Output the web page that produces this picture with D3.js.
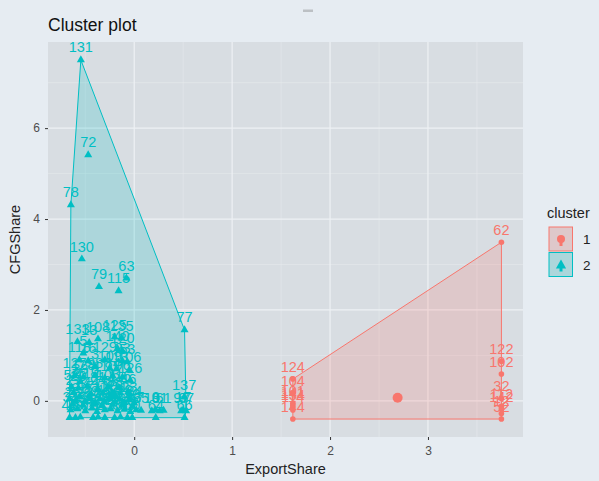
<!DOCTYPE html>
<html><head><meta charset="utf-8">
<script src="https://cdn.jsdelivr.net/npm/d3@7"></script>
<style>body{margin:0;background:#e6ecf2;}svg{display:block;font-family:"Liberation Sans",Arial,sans-serif;}</style>
</head><body><svg id="c" width="599" height="481"></svg>
<script>
// ---- data ----
const title = "Cluster plot";
const xLabel = "ExportShare";
const yLabel = "CFGShare";
const xTicks = [0, 1, 2, 3];
const yTicks = [0, 2, 4, 6];
const clusterNames = ["1", "2"];
const clusterColors = ["#F8766D", "#00BFC4"];
// [id, ExportShare, CFGShare]
const cluster1Points = [
  [124,1.62,0.48],[104,1.62,0.16],[101,1.62,-0.05],[141,1.62,-0.10],[134,1.62,-0.15],[114,1.62,-0.20],[144,1.62,-0.40],
  [62,3.75,3.49],[122,3.75,0.87],[102,3.75,0.59],[32,3.75,0.05],[112,3.75,-0.12],[142,3.75,-0.18],[12,3.75,-0.28],[52,3.75,-0.40]
];
const cluster2Points = [
  [131,-0.545,7.50],[72,-0.47,5.41],[78,-0.647,4.31],[130,-0.535,3.12],[79,-0.36,2.51],[115,-0.16,2.42],[63,-0.08,2.70],[77,0.514,1.56],
  [133,-0.58,1.30],[13,-0.46,1.28],[108,-0.37,1.36],[125,-0.2,1.40],[135,-0.13,1.38],[140,-0.17,1.15],[120,-0.12,1.10],[5,-0.52,1.05],
  [118,-0.56,0.90],[16,-0.47,0.88],[129,-0.3,0.90],[93,-0.12,0.88],[53,-0.07,0.86],[109,-0.25,0.72],[113,-0.18,0.70],[106,-0.05,0.68],[3,-0.4,0.75],
  [127,-0.61,0.55],[128,-0.52,0.52],[98,-0.4,0.56],[110,-0.3,0.50],[84,-0.22,0.55],[96,-0.12,0.52],[126,-0.04,0.45],[38,-0.55,0.42],
  [58,-0.64,0.30],[20,-0.57,0.28],[119,-0.48,0.33],[81,-0.37,0.25],[105,-0.27,0.30],[116,-0.15,0.28],[46,-0.06,0.20],[27,-0.62,0.18],[44,-0.44,0.15],[70,-0.32,0.17],[88,-0.2,0.15],[137,0.51,0.08],
  [1,-0.66,0.05],[2,-0.6,0.0],[4,-0.55,0.08],[6,-0.5,-0.02],[7,-0.45,0.06],[9,-0.4,-0.05],[11,-0.35,0.04],[15,-0.3,-0.03],[18,-0.25,0.06],[19,-0.2,-0.02],[21,-0.15,0.04],[22,-0.1,-0.04],[23,-0.05,0.02],[24,0.0,-0.05],[25,-0.63,-0.08],[26,-0.52,-0.1],[28,-0.42,-0.08],[29,-0.33,-0.1],[30,-0.22,-0.08],[31,-0.12,-0.1],[33,-0.02,-0.12],
  [34,-0.65,-0.2],[35,-0.58,-0.18],[36,-0.5,-0.22],[37,-0.43,-0.16],[39,-0.38,-0.24],[40,-0.3,-0.2],[41,-0.24,-0.18],[42,-0.17,-0.22],[43,-0.1,-0.19],[45,-0.04,-0.24],[47,0.02,-0.2],[10,0.18,-0.22],[8,0.22,-0.2],[91,0.26,-0.22],[61,0.3,-0.21],[97,0.48,-0.22],[17,0.5,-0.2],[67,0.53,-0.22],[65,0.07,-0.21],
  [48,-0.66,-0.37],[49,-0.6,-0.37],[50,-0.55,-0.36],[51,-0.42,-0.37],[54,-0.37,-0.36],[55,-0.3,-0.37],[56,-0.2,-0.37],[57,-0.14,-0.36],[59,-0.07,-0.37],[60,-0.02,-0.37],[64,0.22,-0.37],[66,0.514,-0.37]
];
const clusterCenters = [[2.69, 0.07], [-0.22, 0.12]];

// ---- layout ----
const svg = d3.select("#c");
const P = {l: 48, r: 523, t: 42, b: 437};
const all = cluster1Points.concat(cluster2Points);
const xe = d3.extent(all, d => d[1]), ye = d3.extent(all, d => d[2]);
const xp = (xe[1]-xe[0])*0.05, yp = (ye[1]-ye[0])*0.05;
const x = d3.scaleLinear().domain([xe[0]-xp, xe[1]+xp]).range([P.l, P.r]);
const y = d3.scaleLinear().domain([ye[0]-yp, ye[1]+yp]).range([P.b, P.t]);

svg.append("rect").attr("width",599).attr("height",481).attr("fill","#e6ecf2");
svg.append("rect").attr("x",303).attr("y",9.5).attr("width",10).attr("height",2.5).attr("fill","#bcc0c4");
svg.append("rect").attr("x",P.l).attr("y",P.t).attr("width",P.r-P.l).attr("height",P.b-P.t).attr("fill","#d8dde2");

// grid
const xMinor = d3.range(-0.5, 4, 1).filter(v => v > x.domain()[0] && v < x.domain()[1]);
const yMinor = d3.range(-1, 9, 2).filter(v => v > y.domain()[0] && v < y.domain()[1]);
const g = svg.append("g");
xMinor.forEach(v => g.append("line").attr("x1",x(v)).attr("x2",x(v)).attr("y1",P.t).attr("y2",P.b).attr("stroke","#e5e9ed").attr("stroke-width",0.6));
yMinor.forEach(v => g.append("line").attr("y1",y(v)).attr("y2",y(v)).attr("x1",P.l).attr("x2",P.r).attr("stroke","#e5e9ed").attr("stroke-width",0.6));
xTicks.forEach(v => g.append("line").attr("x1",x(v)).attr("x2",x(v)).attr("y1",P.t).attr("y2",P.b).attr("stroke","#eef1f4").attr("stroke-width",1.2));
yTicks.forEach(v => g.append("line").attr("y1",y(v)).attr("y2",y(v)).attr("x1",P.l).attr("x2",P.r).attr("stroke","#eef1f4").attr("stroke-width",1.2));

// axes
const xAxis = svg.append("g").attr("transform",`translate(0,${P.b})`)
  .call(d3.axisBottom(x).tickValues(xTicks).tickSize(3).tickPadding(6).tickFormat(d3.format("d")));
const yAxis = svg.append("g").attr("transform",`translate(${P.l},0)`)
  .call(d3.axisLeft(y).tickValues(yTicks).tickSize(3).tickPadding(5).tickFormat(d3.format("d")));
[xAxis, yAxis].forEach(a => {
  a.select(".domain").remove();
  a.selectAll(".tick line").attr("stroke","#333");
  a.selectAll(".tick text").attr("fill","#4d4d4d").style("font-size","12px");
});

// hulls
const sets = [cluster1Points, cluster2Points];
sets.forEach((pts, i) => {
  const hull = d3.polygonHull(pts.map(d => [x(d[1]), y(d[2])]));
  svg.append("path").attr("d", "M" + hull.join("L") + "Z")
    .attr("fill", clusterColors[i]).attr("fill-opacity", 0.2)
    .attr("stroke", clusterColors[i]).attr("stroke-width", 1);
});

const tri = d3.symbol().type(d3.symbolTriangle);
// points
sets.forEach((pts, i) => {
  const gp = svg.append("g");
  pts.forEach(d => {
    if (i === 0) gp.append("circle").attr("cx",x(d[1])).attr("cy",y(d[2])).attr("r",2.8).attr("fill",clusterColors[i]);
    else gp.append("path").attr("d",tri.size(28)()).attr("transform",`translate(${x(d[1])},${y(d[2])})`).attr("fill",clusterColors[i]);
  });
});
// labels
sets.forEach((pts, i) => {
  svg.append("g").selectAll("text").data(pts).join("text")
    .attr("x", d => x(d[1])).attr("y", d => y(d[2]) - 7.5)
    .attr("text-anchor","middle").attr("fill", clusterColors[i])
    .style("font-size","14.5px").text(d => d[0]);
});
// centers
svg.append("circle").attr("cx",x(clusterCenters[0][0])).attr("cy",y(clusterCenters[0][1])).attr("r",5).attr("fill",clusterColors[0]);
svg.append("path").attr("d",tri.size(70)()).attr("transform",`translate(${x(clusterCenters[1][0])},${y(clusterCenters[1][1])})`).attr("fill",clusterColors[1]);

// titles
svg.append("text").attr("x",P.l).attr("y",31).attr("fill","#111").style("font-size","17.5px").text(title);
svg.append("text").attr("x",(P.l+P.r)/2).attr("y",474).attr("text-anchor","middle").attr("fill","#222").style("font-size","14.5px").text(xLabel);
svg.append("text").attr("transform",`translate(20,${(P.t+P.b)/2}) rotate(-90)`).attr("text-anchor","middle").attr("fill","#222").style("font-size","14.5px").text(yLabel);

// legend
const lg = svg.append("g");
lg.append("text").attr("x",547).attr("y",218).attr("fill","#222").style("font-size","14.5px").text("cluster");
clusterNames.forEach((n, i) => {
  const by = 227 + i*25.5;
  lg.append("rect").attr("x",549).attr("y",by).attr("width",23.5).attr("height",24).attr("fill","#d8dde2");
  lg.append("rect").attr("x",549).attr("y",by).attr("width",23.5).attr("height",24)
    .attr("fill",clusterColors[i]).attr("fill-opacity",0.2).attr("stroke",clusterColors[i]).attr("stroke-width",1);
  if (i === 0) lg.append("circle").attr("cx",561).attr("cy",by+12).attr("r",4).attr("fill",clusterColors[i]);
  else lg.append("path").attr("d",tri.size(45)()).attr("transform",`translate(561,${by+13})`).attr("fill",clusterColors[i]);
  lg.append("rect").attr("x",559.5).attr("y",by+15).attr("width",3).attr("height",4).attr("fill",clusterColors[i]);
  lg.append("text").attr("x",583).attr("y",by+17).attr("fill","#222").style("font-size","13.5px").text(n);
});
</script></body></html>
